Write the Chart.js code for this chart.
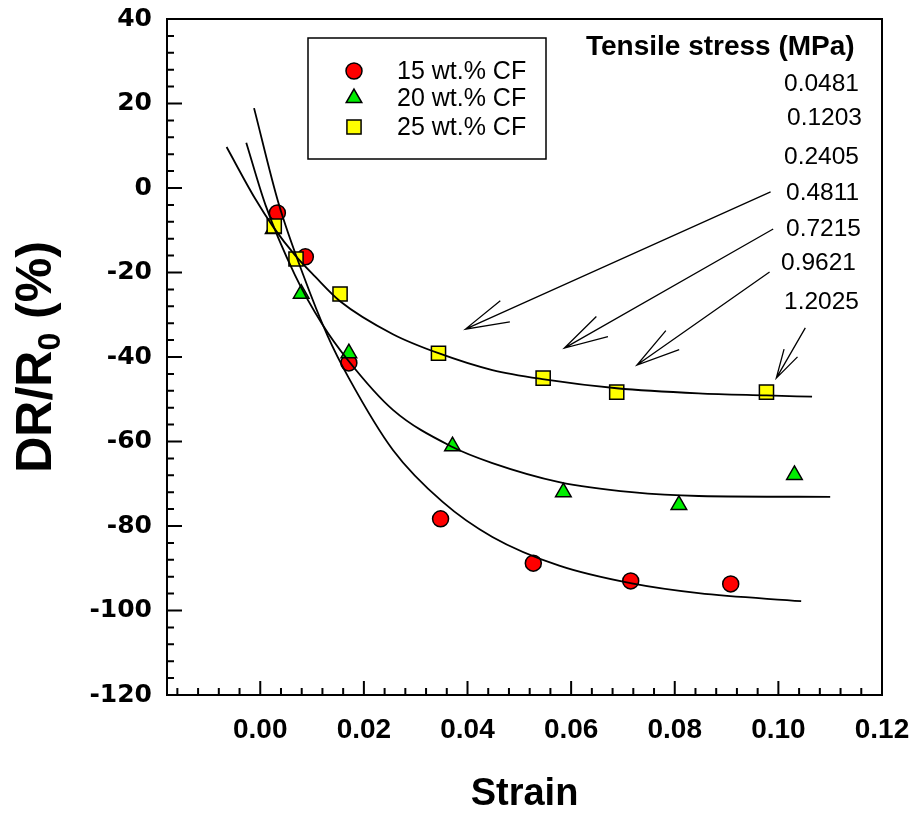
<!DOCTYPE html>
<html>
<head>
<meta charset="utf-8">
<script src="https://cdn.jsdelivr.net/npm/chart.js@4"></script>
<style>
  html, body { margin: 0; padding: 0; background: #fff; }
  #wrap { width: 914px; height: 814px; }
</style>
</head>
<body>
<div id="wrap"><canvas id="c" width="914" height="814"></canvas></div>
<script>
// axis ticks
const xTickValues = [0, 0.02, 0.04, 0.06, 0.08, 0.10, 0.12];
const yTickValues = [-120, -100, -80, -60, -40, -20, 0, 20, 40];

// measured points
const seriesNames = ['15 wt.% CF', '20 wt.% CF', '25 wt.% CF'];
const strain15 = [0.0033, 0.0087, 0.0171, 0.0348, 0.0527, 0.0715, 0.0908];
const dr15     = [-5.9, -16.3, -41.4, -78.3, -88.8, -93.0, -93.7];
const strain20 = [0.0025, 0.0079, 0.0171, 0.0371, 0.0585, 0.0808, 0.1031];
const dr20     = [-9.7, -25.0, -39.1, -61.1, -72.0, -75.0, -67.9];
const strain25 = [0.0027, 0.0069, 0.0154, 0.0344, 0.0546, 0.0688, 0.0977];
const dr25     = [-9.0, -16.8, -25.1, -39.1, -45.0, -48.3, -48.3];

// fitted decay curves
const fitX15 = [-0.0012, 0.0035, 0.0083, 0.0130, 0.0171, 0.0256, 0.0352, 0.0448, 0.0577, 0.0717, 0.0846, 0.1044];
const fitY15 = [18.9, -3.5, -20.6, -35.0, -45.0, -62.0, -74.3, -82.6, -89.4, -93.6, -95.9, -97.8];
const fitX20 = [-0.0027, 0.0010, 0.0067, 0.0120, 0.0169, 0.0256, 0.0371, 0.0448, 0.0577, 0.0717, 0.0846, 0.1100];
const fitY20 = [10.7, -4.0, -20.6, -32.3, -40.7, -52.5, -61.3, -65.1, -69.6, -72.0, -72.9, -73.1];
const fitX25 = [-0.0065, -0.0010, 0.0025, 0.0067, 0.0106, 0.0154, 0.0256, 0.0344, 0.0448, 0.0548, 0.0688, 0.0846, 0.0977, 0.1065];
const fitY25 = [9.7, -2.5, -9.2, -15.9, -21.0, -26.8, -34.6, -39.1, -43.1, -45.3, -47.4, -48.6, -49.1, -49.4];

// tensile stress annotations
const stressTitle = 'Tensile stress (MPa)';
const stressValues = ['0.0481', '0.1203', '0.2405', '0.4811', '0.7215', '0.9621', '1.2025'];
const arrowTail = [[0.0985, -0.9], [0.0990, -9.7], [0.0983, -19.9], [0.1052, -33.1]];
const arrowHead = [[0.0396, -33.4], [0.0587, -37.9], [0.0727, -41.9], [0.0996, -45.0]];

const pts = (xs, ys) => xs.map((v, i) => ({ x: v, y: ys[i] }));

const markerStyle = [
  { style: 'circle', radius: 8, color: '#ff0000' },
  { style: 'triangle', radius: 9, color: '#00ee00' },
  { style: 'rect', radius: 10, color: '#ffff00' }
];

function fitLine(xs, ys) {
  return {
    type: 'line', data: pts(xs, ys), showLine: true, pointRadius: 0,
    borderColor: '#000', borderWidth: 1.8, cubicInterpolationMode: 'monotone',
    fill: false, order: 0
  };
}
function markers(i, xs, ys) {
  const m = markerStyle[i];
  return {
    type: 'scatter', label: seriesNames[i], data: pts(xs, ys), showLine: false,
    pointStyle: m.style, pointRadius: m.radius, pointBackgroundColor: m.color,
    pointBorderColor: '#000', pointBorderWidth: 1.5, order: 3 - i
  };
}

function drawMarker(ctx, kind, cx, cy) {
  const m = markerStyle[kind];
  ctx.beginPath();
  if (m.style === 'circle') ctx.arc(cx, cy, m.radius, 0, Math.PI * 2);
  else if (m.style === 'triangle') {
    const r = m.radius;
    ctx.moveTo(cx, cy - r);
    ctx.lineTo(cx + r * Math.sin(2 * Math.PI / 3), cy - r * Math.cos(2 * Math.PI / 3));
    ctx.lineTo(cx + r * Math.sin(4 * Math.PI / 3), cy - r * Math.cos(4 * Math.PI / 3));
    ctx.closePath();
  } else {
    const s = m.radius * Math.SQRT1_2;
    ctx.rect(cx - s, cy - s, 2 * s, 2 * s);
  }
  ctx.fillStyle = m.color; ctx.fill();
  ctx.lineWidth = 1.5; ctx.strokeStyle = '#000'; ctx.stroke();
}

const decor = {
  id: 'decor',
  afterDraw(chart) {
    const { ctx, chartArea: a, scales: { x, y } } = chart;
    ctx.save();
    ctx.strokeStyle = '#000';
    ctx.lineWidth = 2;
    ctx.strokeRect(a.left, a.top, a.right - a.left, a.bottom - a.top);

    // inward ticks, bottom and left only
    ctx.beginPath();
    for (let k = -4; k <= 30; k++) {
      const px = x.getPixelForValue(k * 0.004);
      const len = k % 5 === 0 ? 14 : 7;
      ctx.moveTo(px, a.bottom); ctx.lineTo(px, a.bottom - len);
    }
    for (let v = -120; v <= 40; v += 4) {
      const py = y.getPixelForValue(v);
      const len = v % 20 === 0 ? 15 : 7;
      ctx.moveTo(a.left, py); ctx.lineTo(a.left + len, py);
    }
    ctx.stroke();

    // legend box
    ctx.lineWidth = 1.5;
    ctx.strokeRect(308, 38, 238, 121);
    const rows = [71, 98, 127];
    ctx.font = '25px "Liberation Sans", Arial, sans-serif';
    ctx.textBaseline = 'middle';
    ctx.textAlign = 'left';
    rows.forEach((ry, i) => {
      drawMarker(ctx, i, 354, ry);
      ctx.fillStyle = '#000';
      ctx.fillText(seriesNames[i], 397, ry + 1);
    });

    // stress labels
    ctx.fillStyle = '#000';
    ctx.font = 'bold 28px "Liberation Sans", Arial, sans-serif';
    ctx.textAlign = 'left';
    ctx.fillText(stressTitle, 586, 47);
    ctx.font = '24.5px "Liberation Sans", Arial, sans-serif';
    const labelPos = [[784, 84], [787, 118], [784, 157], [786, 193], [786, 229], [781, 263], [784, 302]];
    stressValues.forEach((s, i) => ctx.fillText(s, labelPos[i][0], labelPos[i][1]));

    // open arrows
    ctx.lineWidth = 1.3;
    const headLen = [45, 45, 45, 30];
    arrowTail.forEach((t, i) => {
      const x0 = x.getPixelForValue(t[0]), y0 = y.getPixelForValue(t[1]);
      const x1 = x.getPixelForValue(arrowHead[i][0]), y1 = y.getPixelForValue(arrowHead[i][1]);
      const ang = Math.atan2(y0 - y1, x0 - x1);
      const spread = 15 * Math.PI / 180;
      ctx.beginPath();
      ctx.moveTo(x0, y0); ctx.lineTo(x1, y1);
      ctx.moveTo(x1 + headLen[i] * Math.cos(ang - spread), y1 + headLen[i] * Math.sin(ang - spread));
      ctx.lineTo(x1, y1);
      ctx.lineTo(x1 + headLen[i] * Math.cos(ang + spread), y1 + headLen[i] * Math.sin(ang + spread));
      ctx.stroke();
    });

    // axis titles
    ctx.font = 'bold 38px "Liberation Sans", Arial, sans-serif';
    ctx.textAlign = 'center';
    ctx.textBaseline = 'alphabetic';
    ctx.fillText('Strain', (a.left + a.right) / 2, 805);

    ctx.translate(51, (a.top + a.bottom) / 2);
    ctx.rotate(-Math.PI / 2);
    const big = 'bold 50px "Liberation Sans", Arial, sans-serif';
    const small = 'bold 32px "Liberation Sans", Arial, sans-serif';
    const parts = [['DR/R', big, 0], ['0', small, 9], [' (%)', big, 0]];
    let total = 0;
    parts.forEach(p => { ctx.font = p[1]; p.push(ctx.measureText(p[0]).width); total += p[3]; });
    let cx = -total / 2;
    ctx.textAlign = 'left';
    parts.forEach(p => { ctx.font = p[1]; ctx.fillText(p[0], cx, p[2]); cx += p[3]; });
    ctx.restore();
  }
};

new Chart(document.getElementById('c'), {
  type: 'scatter',
  data: {
    datasets: [
      fitLine(fitX15, fitY15), fitLine(fitX20, fitY20), fitLine(fitX25, fitY25),
      markers(0, strain15, dr15), markers(1, strain20, dr20), markers(2, strain25, dr25)
    ]
  },
  options: {
    responsive: false,
    animation: false,
    devicePixelRatio: 1,
    layout: { padding: { top: 19, right: 32, left: 0, bottom: 0 } },
    plugins: { legend: { display: false }, tooltip: { enabled: false } },
    scales: {
      x: {
        type: 'linear', min: -0.018, max: 0.12,
        grid: { display: false, drawTicks: false }, border: { display: false },
        afterBuildTicks: s => { s.ticks = xTickValues.map(v => ({ value: v })); },
        afterFit: s => { s.height = 119; s.paddingLeft = 0; s.paddingRight = 0; },
        ticks: {
          padding: 18, color: '#000', maxRotation: 0, autoSkip: false,
          font: { family: '"Liberation Sans", Arial, sans-serif', size: 28, weight: 'bold' },
          callback: v => v.toFixed(2)
        }
      },
      y: {
        type: 'linear', min: -120, max: 40,
        grid: { display: false, drawTicks: false }, border: { display: false },
        afterBuildTicks: s => { s.ticks = yTickValues.map(v => ({ value: v })); },
        afterFit: s => { s.width = 167; s.paddingTop = 0; s.paddingBottom = 0; },
        ticks: {
          padding: 15, color: '#000',
          font: { family: '"DejaVu Sans", sans-serif', size: 25, weight: 'bold' }
        }
      }
    }
  },
  plugins: [decor]
});
</script>
</body>
</html>
